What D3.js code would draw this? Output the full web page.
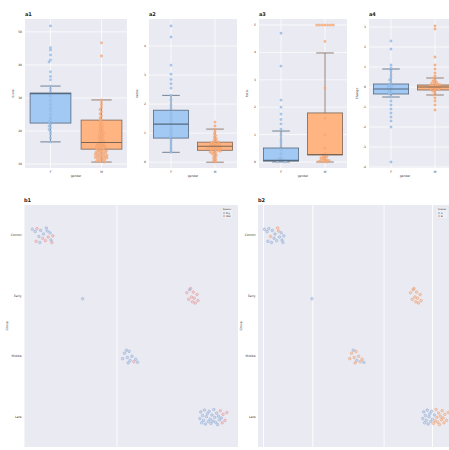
<!DOCTYPE html>
<html><head><meta charset="utf-8">
<script src="https://cdn.jsdelivr.net/npm/d3@7"></script>
<style>body{margin:0;background:#fff}svg{display:block;font-family:"DejaVu Sans",sans-serif}</style>
</head><body><svg id="c" width="449" height="450"></svg>
<script>
// ---------- DATA ----------
const groups = ["F", "M"];
const boxTitles = ["a1", "a2", "a3", "a4"];
const boxYLabels = ["Score", "Index", "Ratio", "Change"];
const boxXLabel = "gender";

const a1Ticks = [10, 20, 30, 40, 50];
const a2Ticks = [0, 1, 2, 3, 4];
const a3Ticks = [0, 1, 2, 3, 4, 5];
const a4Ticks = [-4, -3, -2, -1, 0, 1, 2, 3];

// box statistics per group [F, M]
const a1Stats = [{q1: 22.4, med: 31.3, q3: 31.5, lo: 16.7, hi: 33.6}, {q1: 14.5, med: 16.5, q3: 23.3, lo: 10.6, hi: 29.4}];
const a2Stats = [{q1: 0.83, med: 1.31, q3: 1.79, lo: 0.34, hi: 2.3}, {q1: 0.41, med: 0.55, q3: 0.69, lo: 0.0, hi: 1.14}];
const a3Stats = [{q1: 0.03, med: 0.06, q3: 0.51, lo: 0.0, hi: 1.13}, {q1: 0.26, med: 0.27, q3: 1.79, lo: 0.0, hi: 3.98}];
const a4Stats = [{q1: -0.35, med: -0.1, q3: 0.15, lo: -0.5, hi: 0.9}, {q1: -0.15, med: 0.0, q3: 0.1, lo: -0.4, hi: 0.45}];

// observations
const a1F = [51.8, 45.2, 44.5, 43.0, 41.5, 40.9, 37.9, 36.5, 35.5, 33.6, 32.8, 31.9, 30.5, 29.2, 28.1, 27.0, 26.2, 25.1, 24.0, 23.2, 22.6, 22.0, 21.5, 21.0, 20.4, 19.8, 19.0, 17.9, 16.7];
const a1M = [46.7, 42.7, 29.4, 28.6, 27.9, 27.1, 26.5, 25.8, 25.2, 24.6, 24.0, 23.5, 23.0, 22.5, 22.0, 21.6, 21.2, 20.8, 20.4, 20.0, 19.7, 19.4, 19.0, 18.7, 18.4, 18.1, 17.8, 17.5, 17.3, 17.0, 16.8, 16.5, 16.3, 16.0, 15.8, 15.6, 15.4, 15.2, 15.0, 14.8, 14.6, 14.4, 14.2, 14.0, 13.9, 13.7, 13.5, 13.4, 13.2, 13.0, 12.9, 12.7, 12.6, 12.4, 12.3, 12.1, 12.0, 11.8, 11.7, 11.5, 11.4, 11.2, 11.1, 10.9, 10.8, 10.6, 13.1, 14.1, 12.2, 11.9, 12.8, 13.6, 14.9, 15.5, 16.2];
const a2F = [4.69, 4.31, 3.34, 3.03, 2.85, 2.7, 2.55, 2.3, 2.15, 1.97, 1.85, 1.7, 1.6, 1.5, 1.4, 1.31, 1.2, 1.1, 1.0, 0.92, 0.85, 0.76, 0.68, 0.6, 0.5, 0.42, 0.34];
const a2M = [1.38, 1.25, 1.14, 1.05, 0.98, 0.92, 0.86, 0.81, 0.77, 0.73, 0.7, 0.67, 0.64, 0.62, 0.6, 0.58, 0.56, 0.54, 0.52, 0.5, 0.48, 0.46, 0.44, 0.42, 0.4, 0.38, 0.36, 0.33, 0.3, 0.27, 0.24, 0.2, 0.16, 0.12, 0.08, 0.04, 0.0, 0.55, 0.47, 0.41, 0.35, 0.63, 0.69, 0.51];
const a3F = [4.7, 3.5, 2.26, 2.0, 1.75, 1.55, 1.39, 1.2, 0.99, 0.8, 0.7, 0.6, 0.45, 0.3, 0.15, 0.06, 0.03, 0.02, 0.05, 0.1];
const a3M = [5.0, 5.0, 5.0, 5.0, 5.0, 5.0, 5.0, 4.4, 2.7, 1.6, 1.0, 0.5, 0.3, 0.26, 0.2, 0.15, 0.1, 0.05, 0.02, 0.0, 0.12, 0.08, 0.18, 0.22, 0.0, 0.03, 0.06];
const a4F = [2.3, 1.9, 1.1, 0.95, 0.8, 0.6, 0.45, 0.35, 0.2, 0.1, 0.05, 0.0, -0.1, -0.2, -0.3, -0.35, -0.5, -0.7, -0.9, -1.1, -1.3, -1.5, -1.7, -2.0, -3.75];
const a4M = [3.05, 2.9, 1.5, 1.1, 0.9, 0.7, 0.55, 0.45, 0.35, 0.3, 0.25, 0.2, 0.15, 0.1, 0.08, 0.05, 0.02, 0.0, -0.02, -0.05, -0.08, -0.1, -0.15, -0.2, -0.3, -0.4, -0.55, -0.7, -0.9, -1.15, 0.12, 0.18, -0.12, 0.03];

// bottom panels (shared observations, different hue columns)
const stripTitles = ["b1", "b2"];
const stripYLabel = "Group";
const stripCats = ["Control", "Early", "Middle", "Late"];
const b1XTicks = [0, 100];
const b2XTicks = [8, 64, 145, 200];
const b1Legend = {title: "Season", labels: ["Dry", "Wet"]};
const b2Legend = {title: "Subset", labels: ["A", "B"]};

const pointCat = [
  0,0,0,0,0,0,0,0,0,0,0,0,0,0,0,0,0,
  1,1,1,1,1,1,1,1,1,1,1,1,
  2,2,2,2,2,2,2,2,2,2,2,
  3,3,3,3,3,3,3,3,3,3,3,3,3,3,3,3,3,3,3,3,3,3,3,3,3,3,3,3
];
const pointX = [
  9,12,14,16,18,20,21,23,25,26,28,29,31,13,17,24,30,
  63,175,177,178,180,181,182,183,184,186,187,179,
  106,108,110,111,113,114,116,118,120,122,112,
  189,190,191,192,193,194,195,196,197,198,199,200,201,202,203,204,205,206,207,208,209,210,211,212,213,214,216,218
];
const pointJit = [
  -0.10,-0.06,-0.11,0.02,-0.08,0.05,-0.02,0.09,-0.07,0.03,-0.04,0.08,0.01,0.10,0.12,-0.12,0.12,
  0.05,-0.05,0.06,-0.10,0.02,0.10,-0.06,0.04,0.12,-0.02,0.08,-0.12,
  0.04,-0.05,-0.10,0.02,-0.08,0.07,0.00,0.09,0.05,0.10,0.11,
  0.03,-0.08,0.10,-0.02,0.06,-0.11,0.12,0.00,-0.05,0.08,-0.09,0.04,0.11,-0.03,0.07,-0.12,0.01,0.09,-0.06,0.13,-0.01,0.05,-0.10,0.02,0.10,-0.04,0.06,-0.07
];
const hueB1 = [
  0,0,1,0,0,1,0,1,0,1,0,0,1,1,0,0,1,
  0,1,1,0,1,1,1,1,1,1,1,1,
  0,0,0,0,0,0,0,1,0,0,0,
  0,0,0,0,0,0,0,0,0,0,0,0,0,0,0,0,0,0,0,0,0,0,1,0,1,1,1,1
];
const hueB2 = [
  0,0,0,1,0,0,0,0,1,0,0,0,0,0,0,1,0,
  0,1,1,1,1,1,1,1,1,1,1,1,
  1,1,0,1,1,0,1,1,1,0,1,
  0,0,0,0,0,0,0,0,0,0,0,0,1,0,1,1,1,1,1,1,1,1,1,1,1,1,1,1
];

// ---------- DRAWING ----------
const svg = d3.select("#c");
const BG = "#eaeaf2";
const boxFill = ["#a1c9f4", "#ffb482"];
const boxEdge = ["#56687c", "#7d6555"];
const ptFill = ["#a1c9f4", "#ffb482"];
const ptStroke = ["#7fa6d2", "#e8935e"];
const txt = "#333";

const boxPanels = [
  {x0: 25, x1: 127, dom: [8.8, 53.9], ticks: a1Ticks, stats: a1Stats, data: [a1F, a1M]},
  {x0: 149, x1: 237, dom: [-0.2, 4.93], ticks: a2Ticks, stats: a2Stats, data: [a2F, a2M]},
  {x0: 259, x1: 347, dom: [-0.22, 5.22], ticks: a3Ticks, stats: a3Stats, data: [a3F, a3M]},
  {x0: 369, x1: 457, dom: [-4.05, 3.4], ticks: a4Ticks, stats: a4Stats, data: [a4F, a4M]}
];
const TOP = 19, BOT = 168;

function swarm(vals, y, cx, r) {
  const pts = vals.map(v => ({py: y(v)})).sort((a, b) => a.py - b.py);
  const placed = [];
  const d2 = (2 * r * 0.92) ** 2;
  pts.forEach(p => {
    let k = 0;
    while (true) {
      const off = (k % 2 === 0 ? 1 : -1) * Math.ceil(k / 2) * r * 0.6;
      const px = cx + off;
      const ok = placed.every(q => (q.px - px) ** 2 + (q.py - p.py) ** 2 >= d2);
      if (ok) { p.px = px; placed.push(p); break; }
      k++;
      if (k > 200) { p.px = px; placed.push(p); break; }
    }
  });
  return placed;
}

boxPanels.forEach((P, i) => {
  const g = svg.append("g");
  const x = d3.scaleBand().domain(groups).range([P.x0, P.x1]);
  const y = d3.scaleLinear().domain(P.dom).range([BOT, TOP]);
  const clipId = "clipA" + i;
  svg.append("clipPath").attr("id", clipId).append("rect")
    .attr("x", P.x0).attr("y", TOP).attr("width", P.x1 - P.x0).attr("height", BOT - TOP);
  g.append("rect").attr("x", P.x0).attr("y", TOP).attr("width", P.x1 - P.x0).attr("height", BOT - TOP).attr("fill", BG);
  const inner = g.append("g").attr("clip-path", `url(#${clipId})`);
  // grid
  inner.selectAll(".gy").data(P.ticks).join("line")
    .attr("x1", P.x0).attr("x2", P.x1).attr("y1", d => y(d)).attr("y2", d => y(d))
    .attr("stroke", "#fff").attr("stroke-width", 0.7);
  inner.selectAll(".gx").data(groups).join("line")
    .attr("x1", d => x(d) + x.bandwidth() / 2).attr("x2", d => x(d) + x.bandwidth() / 2)
    .attr("y1", TOP).attr("y2", BOT).attr("stroke", "#fff").attr("stroke-width", 0.7);
  // boxes
  groups.forEach((gname, j) => {
    const s = P.stats[j];
    const cx = x(gname) + x.bandwidth() / 2;
    const bw = x.bandwidth() * 0.8;
    const ec = boxEdge[j];
    inner.append("line").attr("x1", cx).attr("x2", cx).attr("y1", y(s.q3)).attr("y2", y(s.hi)).attr("stroke", ec).attr("stroke-width", 0.8);
    inner.append("line").attr("x1", cx).attr("x2", cx).attr("y1", y(s.q1)).attr("y2", y(s.lo)).attr("stroke", ec).attr("stroke-width", 0.8);
    inner.append("line").attr("x1", cx - bw / 4).attr("x2", cx + bw / 4).attr("y1", y(s.hi)).attr("y2", y(s.hi)).attr("stroke", ec).attr("stroke-width", 0.8);
    inner.append("line").attr("x1", cx - bw / 4).attr("x2", cx + bw / 4).attr("y1", y(s.lo)).attr("y2", y(s.lo)).attr("stroke", ec).attr("stroke-width", 0.8);
    inner.append("rect").attr("x", cx - bw / 2).attr("width", bw)
      .attr("y", y(s.q3)).attr("height", Math.max(0.5, y(s.q1) - y(s.q3)))
      .attr("fill", boxFill[j]).attr("stroke", ec).attr("stroke-width", 0.8);
    const pts = swarm(P.data[j], y, cx, 1.15);
    inner.selectAll(null).data(pts).join("circle")
      .attr("cx", d => d.px).attr("cy", d => d.py).attr("r", 1.15)
      .attr("fill", ptFill[j]).attr("fill-opacity", 0.9)
      .attr("stroke", ptStroke[j]).attr("stroke-width", 0.35);
    inner.append("line").attr("x1", cx - bw / 2).attr("x2", cx + bw / 2).attr("y1", y(s.med)).attr("y2", y(s.med)).attr("stroke", ec).attr("stroke-width", 1.1);
  });
  // tick labels
  g.selectAll(".ty").data(P.ticks).join("text")
    .attr("x", P.x0 - 3).attr("y", d => y(d)).attr("dy", "0.35em")
    .attr("text-anchor", "end").attr("font-size", 3).attr("fill", txt).text(d => d);
  g.selectAll(".tx").data(groups).join("text")
    .attr("x", d => x(d) + x.bandwidth() / 2).attr("y", BOT + 4.5)
    .attr("text-anchor", "middle").attr("font-size", 3).attr("fill", txt).text(d => d);
  g.append("text").attr("x", (P.x0 + Math.min(P.x1, 449)) / 2 + (i === 3 ? -4 : 0)).attr("y", BOT + 9)
    .attr("text-anchor", "middle").attr("font-size", 3).attr("fill", txt).text(boxXLabel);
  g.append("text").attr("transform", `translate(${P.x0 - 11},${(TOP + BOT) / 2}) rotate(-90)`)
    .attr("text-anchor", "middle").attr("font-size", 3).attr("fill", txt).text(boxYLabels[i]);
  g.append("text").attr("x", P.x0).attr("y", TOP - 3)
    .attr("font-size", 5).attr("font-weight", "bold").attr("fill", "#222").text(boxTitles[i]);
});

// ---------- bottom strip panels ----------
const BT = 205, BB = 447;
const stripPanels = [
  {x0: 24, x1: 238, dom: [0, 230], ticks: b1XTicks, hue: hueB1, colors: ["#8fabd3", "#e39494"], legend: b1Legend},
  {x0: 258, x1: 472, dom: [1.7, 244.9], ticks: b2XTicks, hue: hueB2, colors: ["#8fabd3", "#ee9a6a"], legend: b2Legend}
];
stripPanels.forEach((P, i) => {
  const g = svg.append("g");
  const x = d3.scaleLinear().domain(P.dom).range([P.x0, P.x1]);
  const y = d3.scalePoint().domain(stripCats).range([BT, BB]).padding(0.5);
  const clipId = "clipB" + i;
  svg.append("clipPath").attr("id", clipId).append("rect")
    .attr("x", P.x0).attr("y", BT).attr("width", P.x1 - P.x0).attr("height", BB - BT);
  g.append("rect").attr("x", P.x0).attr("y", BT).attr("width", P.x1 - P.x0).attr("height", BB - BT).attr("fill", BG);
  const inner = g.append("g").attr("clip-path", `url(#${clipId})`);
  inner.selectAll(".gx").data(P.ticks).join("line")
    .attr("x1", d => x(d)).attr("x2", d => x(d)).attr("y1", BT).attr("y2", BB)
    .attr("stroke", "#fff").attr("stroke-width", 0.9);
  const idx = d3.range(pointX.length);
  inner.selectAll(".pt").data(idx).join("circle")
    .attr("cx", k => x(pointX[k]))
    .attr("cy", k => y(stripCats[pointCat[k]]) + pointJit[k] * y.step())
    .attr("r", 1.3)
    .attr("fill", k => P.colors[P.hue[k]]).attr("fill-opacity", 0.3)
    .attr("stroke", k => P.colors[P.hue[k]]).attr("stroke-width", 0.5);
  // y tick labels
  g.selectAll(".ty").data(stripCats).join("text")
    .attr("x", P.x0 - 2.5).attr("y", d => y(d)).attr("dy", "0.35em")
    .attr("text-anchor", "end").attr("font-size", 3).attr("fill", txt).text(d => d);
  g.append("text").attr("transform", `translate(${P.x0 - 16},${(BT + BB) / 2}) rotate(-90)`)
    .attr("text-anchor", "middle").attr("font-size", 3).attr("fill", txt).text(stripYLabel);
  g.append("text").attr("x", P.x0).attr("y", BT - 3)
    .attr("font-size", 5).attr("font-weight", "bold").attr("fill", "#222").text(stripTitles[i]);
  // legend
  const lx = i === 0 ? 221 : 436, ly = 207;
  const lg = g.append("g");
  lg.append("rect").attr("x", lx).attr("y", ly).attr("width", 12).attr("height", 12)
    .attr("fill", "#eef0f5").attr("stroke", "#d8d8e0").attr("stroke-width", 0.3).attr("rx", 0.8);
  lg.append("text").attr("x", lx + 6).attr("y", ly + 3).attr("text-anchor", "middle")
    .attr("font-size", 2.4).attr("fill", txt).text(P.legend.title);
  P.legend.labels.forEach((lab, j) => {
    lg.append("circle").attr("cx", lx + 3).attr("cy", ly + 6 + j * 3.2).attr("r", 0.9)
      .attr("fill", P.colors[j]).attr("fill-opacity", 0.4).attr("stroke", P.colors[j]).attr("stroke-width", 0.4);
    lg.append("text").attr("x", lx + 5).attr("y", ly + 6 + j * 3.2).attr("dy", "0.35em")
      .attr("font-size", 2.4).attr("fill", txt).text(lab);
  });
});
</script></body></html>
